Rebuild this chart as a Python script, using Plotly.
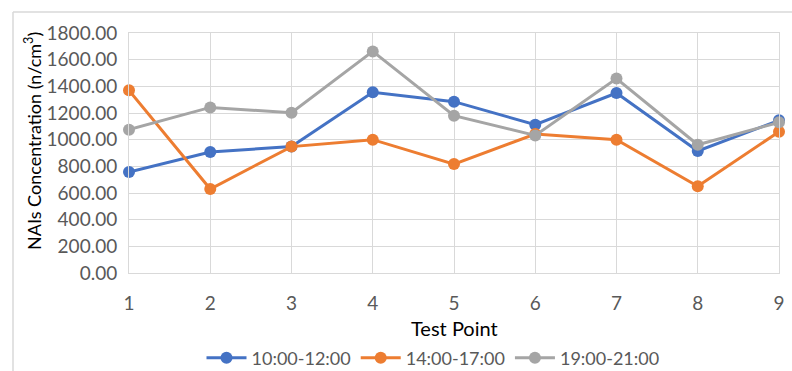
import plotly.graph_objects as go

test_points = [1, 2, 3, 4, 5, 6, 7, 8, 9]
series_names = ["10:00-12:00", "14:00-17:00", "19:00-21:00"]
s_morning = [757, 908, 948, 1355, 1285, 1112, 1350, 915, 1145]
s_afternoon = [1370, 630, 948, 1000, 817, 1042, 1000, 650, 1060]
s_evening = [1075, 1242, 1202, 1662, 1180, 1032, 1458, 962, 1130]
y_ticks = [0, 200, 400, 600, 800, 1000, 1200, 1400, 1600, 1800]
colors = ["#4472C4", "#ED7D31", "#A5A5A5"]

FONT = "Lato"
W, H = 792, 371
L, R, T, B = 129, 13, 33, 98
pw, ph = W - L - R, H - T - B

fig = go.Figure()
for name, vals, c in zip(series_names, [s_morning, s_afternoon, s_evening], colors):
    fig.add_trace(go.Scatter(
        x=test_points, y=vals, name=name, mode="lines+markers",
        line=dict(color=c, width=3), marker=dict(color=c, size=12),
        cliponaxis=False,
    ))

def px_x(p):
    return (p - L) / pw

def px_y(p):
    return 1 - (p - T) / ph

fig.update_layout(
    width=W, height=H,
    margin=dict(l=L, r=R, t=T, b=B, autoexpand=False),
    paper_bgcolor="white", plot_bgcolor="white",
    font=dict(family=FONT, size=16, color="#595959"),
    xaxis=dict(
        range=[1, 9], tickvals=test_points, showgrid=True, gridcolor="#D9D9D9",
        gridwidth=1, zeroline=False, showline=True, linecolor="#D9D9D9", linewidth=1,
        ticks="", ticklabelstandoff=13, tickfont=dict(size=19, color="#595959"),
        mirror=True, automargin=False,
    ),
    yaxis=dict(
        range=[0, 1800], tickvals=y_ticks, tickformat=".2f", showgrid=True,
        gridcolor="#D9D9D9", gridwidth=1, zeroline=False, showline=True,
        linecolor="#D9D9D9", linewidth=1, ticks="", ticklabelstandoff=7,
        tickfont=dict(size=19, color="#595959"), mirror=True, automargin=False,
    ),
    showlegend=True,
    legend=dict(
        orientation="h", xref="container", yref="container",
        x=433 / W, xanchor="center", y=1 - 358 / H, yanchor="middle",
        font=dict(size=18, color="#595959"), itemwidth=40, traceorder="normal",
        bgcolor="rgba(0,0,0,0)",
    ),
    annotations=[
        dict(text="NAIs Concentration (n/cm<sup>3</sup>)", textangle=-90,
             xref="paper", yref="paper", x=px_x(33), y=px_y(141),
             xanchor="center", yanchor="middle", showarrow=False,
             font=dict(size=18, color="black", family=FONT)),
        dict(text="Test Point", xref="paper", yref="paper",
             x=px_x(454), y=px_y(328), xanchor="center", yanchor="middle",
             showarrow=False, font=dict(size=20, color="black", family=FONT)),
    ],
    shapes=[
        dict(type="line", xref="paper", yref="paper", x0=px_x(13), x1=px_x(13),
             y0=px_y(12), y1=px_y(H), line=dict(color="#D9D9D9", width=1.5)),
        dict(type="line", xref="paper", yref="paper", x0=px_x(13), x1=px_x(W),
             y0=px_y(12), y1=px_y(12), line=dict(color="#D9D9D9", width=1.5)),
    ],
)

fig.write_html(
    "out.html",
    config={"displayModeBar": False},
    post_script="document.body.style.margin='0';document.body.style.overflow='hidden';",
)
